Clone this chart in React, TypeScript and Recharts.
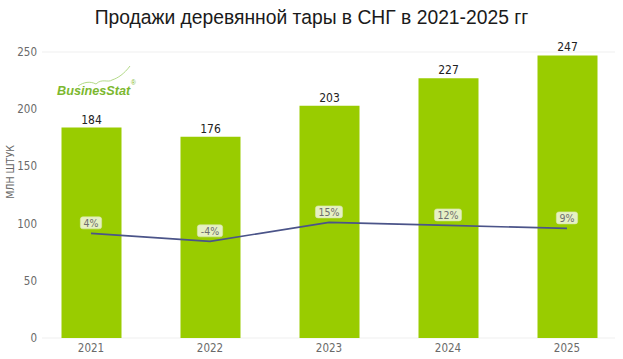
import React from "react";
import { ComposedChart, Bar, Line, XAxis, YAxis, CartesianGrid, LabelList } from "recharts";

const years = ["2021", "2022", "2023", "2024", "2025"];
const sales = [184, 176, 203, 227, 247];
const growth = [4, -4, 15, 12, 9];
const yTicks = [0, 50, 100, 150, 200, 250];

const data = years.map((year, i) => ({ year, sales: sales[i], growth: growth[i] }));

const FONT = "'DejaVu Sans Condensed', 'Roboto Condensed', Roboto, sans-serif";

const charW = (c: string) => (c === "%" ? 7.5 : c === "-" ? 4 : 5.8);

const GrowthLabel = (props: any) => {
  const { x, y, value } = props;
  const txt = `${value}%`;
  const tw = txt.split("").reduce((s: number, c: string) => s + charW(c), 0);
  const w = tw + 8;
  const cy = y - 10.5;
  return (
    <g>
      <rect x={x - w / 2} y={cy - 6} width={w} height={12} rx={2.5} ry={2.5} fill="#e6f0c4" stroke="#d8e8a8" strokeWidth={0.6} />
      <text x={x} y={cy} textAnchor="middle" dominantBaseline="central" fontSize={10.5} fill="#6e6e6e" fontFamily={FONT} style={{ fontStretch: "condensed" }}>
        {txt}
      </text>
    </g>
  );
};

export default function App() {
  return (
    <div style={{ position: "absolute", left: 0, top: 0, width: 623, height: 359, background: "#fff" }}>
      <div
        style={{
          position: "absolute",
          left: 0,
          top: 5,
          width: 623,
          textAlign: "center",
          fontFamily: "'Liberation Sans', Arial, sans-serif",
          fontSize: 19.3,
          lineHeight: "26px",
          color: "#1a1a1a",
        }}
      >
        Продажи деревянной тары в СНГ в 2021-2025 гг
      </div>
      <ComposedChart
        width={623}
        height={359}
        data={data}
        margin={{ top: 52, right: 8, bottom: 0, left: 12 }}
        style={{ position: "absolute", left: 0, top: 0 }}
      >
        <CartesianGrid horizontal vertical={false} stroke="#efefef" strokeWidth={1} />
        <XAxis
          dataKey="year"
          height={21}
          axisLine={false}
          tickLine={false}
          tickSize={0}
          tickMargin={6}
          padding={{ left: -10.5, right: -11.5 }}
          tick={{ fontSize: 11.5, fill: "#6a6a6a", fontFamily: FONT, style: { fontStretch: "condensed" } }}
        />
        <YAxis
          yAxisId="l"
          width={30}
          domain={[0, 250]}
          ticks={yTicks}
          axisLine={false}
          tickLine={false}
          tickSize={0}
          tickMargin={5}
          tick={{ fontSize: 11.5, fill: "#6a6a6a", fontFamily: FONT, style: { fontStretch: "condensed" } }}
        />
        <YAxis yAxisId="r" orientation="right" hide domain={[-101, 186]} allowDataOverflow />
        <Bar yAxisId="l" dataKey="sales" fill="#99cc00" barSize={60} isAnimationActive={false}>
          <LabelList
            dataKey="sales"
            position="top"
            offset={4}
            style={{ fontSize: 12, fill: "#222", fontFamily: FONT, fontStretch: "condensed", fontWeight: 500 }}
          />
        </Bar>
        <Line
          yAxisId="r"
          dataKey="growth"
          stroke="#4b5489"
          strokeWidth={1.6}
          dot={false}
          activeDot={false}
          type="linear"
          isAnimationActive={false}
        >
          <LabelList dataKey="growth" content={GrowthLabel} />
        </Line>
      </ComposedChart>
      <div
        style={{
          position: "absolute",
          left: 4,
          top: 172,
          transform: "translate(-50%, -50%) rotate(-90deg)",
          transformOrigin: "center",
          marginLeft: 6,
          fontFamily: FONT,
          fontStretch: "condensed",
          fontSize: 10.5,
          color: "#666",
          whiteSpace: "nowrap",
        }}
      >
        МЛН ШТУК
      </div>
      <svg width={90} height={40} style={{ position: "absolute", left: 54, top: 62 }}>
        <path d="M 24 24 C 30 20, 36 19, 42 22 C 48 16, 54 21, 58 18 C 64 16, 70 12, 76 4" fill="none" stroke="#9fcf6a" strokeWidth={0.8} />
        <text x={3} y={33} fontFamily="'Liberation Sans', Arial, sans-serif" fontSize={12.7} fontStyle="italic" fontWeight="bold" fill="#7cb82f">
          BusinesStat
        </text>
        <text x={77} y={23} fontFamily="'Liberation Sans', Arial, sans-serif" fontSize={6.5} fill="#7cb82f">
          ®
        </text>
      </svg>
    </div>
  );
}
